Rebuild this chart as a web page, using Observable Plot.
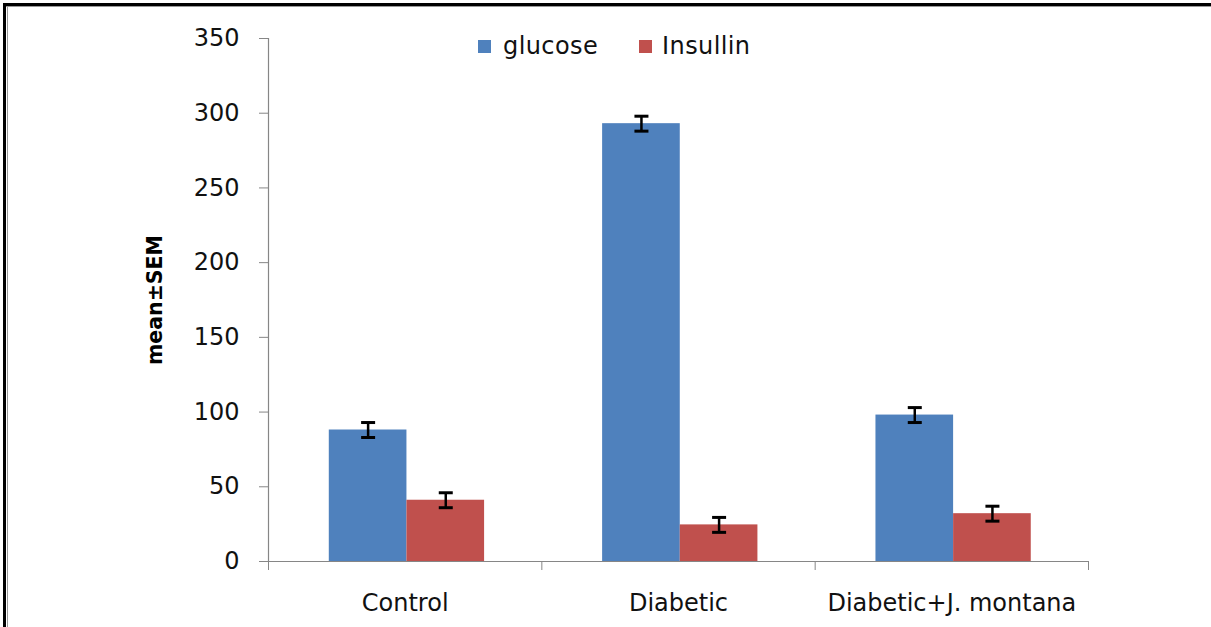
<!DOCTYPE html>
<html>
<head>
<meta charset="utf-8">
<script src="https://cdn.jsdelivr.net/npm/d3@7"></script>
<script src="https://cdn.jsdelivr.net/npm/@observablehq/plot@0.6"></script>
<style>
  html, body { margin: 0; padding: 0; background: #fff; }
  #wrap { position: relative; width: 1211px; height: 627px; overflow: hidden; font-family: "DejaVu Sans", sans-serif; }
  .bT { position: absolute; left: 3px; top: 3px; width: 1208px; height: 3px; background: #000; }
  .bT2 { position: absolute; left: 6px; top: 6px; width: 1205px; height: 1px; background: #999; }
  .bL { position: absolute; left: 3px; top: 3px; width: 3px; height: 624px; background: #000; }
  .bL2 { position: absolute; left: 7px; top: 6px; width: 1px; height: 621px; background: #999; }
  #legend { position: absolute; top: 32px; left: 478px; display: flex; align-items: center; font-size: 24px; color: #111; z-index: 2; }
  #legend .sw { width: 13px; height: 13px; display: inline-block; }
  #legend .item { display: flex; align-items: center; }
  svg { position: absolute; left: 0; top: 0; }
</style>
</head>
<body>
<div id="wrap">
  <div class="bT"></div><div class="bT2"></div><div class="bL"></div><div class="bL2"></div>
  <div id="legend"></div>
</div>
<script>
const categories = ["Control", "Diabetic", "Diabetic+J. montana"];
const series = ["glucose", "Insullin"];
const colors = ["#4F81BD", "#C0504D"];
const glucose = [88, 293, 98];
const insulin = [41, 24.5, 32];
const glucoseSEM = [5, 5, 5];
const insulinSEM = [5, 5, 5];
const yTicks = [0, 50, 100, 150, 200, 250, 300, 350];

// position of each series within a category slot (Excel-style grouped bars)
const band = d3.scaleBand().domain(series).range([0, 1]).paddingInner(0).paddingOuter(0.76).align(0.515);

const rows = [];
categories.forEach((c, i) => {
  [glucose, insulin].forEach((vals, k) => {
    const s = series[k];
    const x1 = i + band(s);
    rows.push({
      category: c, series: s, value: vals[i],
      sem: (k === 0 ? glucoseSEM : insulinSEM)[i],
      x1, x2: x1 + band.bandwidth(), xc: x1 + band.bandwidth() / 2
    });
  });
});

const capSymbol = {
  draw(ctx) { ctx.moveTo(-7, 0); ctx.lineTo(7, 0); }
};

const axisColor = "#868686";

const chart = Plot.plot({
  width: 1211,
  height: 627,
  marginLeft: 268,
  marginRight: 123,
  marginTop: 38,
  marginBottom: 66,
  style: { fontFamily: "DejaVu Sans, sans-serif", fontSize: "24px", color: "#111", background: "transparent" },
  x: { domain: [0, categories.length], axis: null },
  y: { domain: [0, 350], axis: null },
  color: { domain: series, range: colors },
  marks: [
    Plot.rectY(rows, { x1: "x1", x2: "x2", y: "value", fill: "series" }),
    Plot.ruleX(rows, { x: "xc", y1: d => d.value - d.sem, y2: d => d.value + d.sem, stroke: "#000", strokeWidth: 2.5 }),
    Plot.dot(rows, { x: "xc", y: d => d.value + d.sem, symbol: capSymbol, stroke: "#000", strokeWidth: 3, fill: "none" }),
    Plot.dot(rows, { x: "xc", y: d => d.value - d.sem, symbol: capSymbol, stroke: "#000", strokeWidth: 3, fill: "none" }),
    // axes lines
    Plot.ruleX([0], { y1: 0, y2: 350, stroke: axisColor, strokeWidth: 1.2 }),
    Plot.ruleY([0], { x1: 0, x2: categories.length, stroke: axisColor, strokeWidth: 1.2 }),
    Plot.axisY(yTicks, { ticks: yTicks, tickSize: 9, tickPadding: 20, stroke: axisColor, fill: "#111", fontSize: 24, label: null }),
    Plot.axisX(d3.range(categories.length + 1), { ticks: d3.range(categories.length + 1), tickSize: 9, tickFormat: () => "", stroke: axisColor, label: null }),
    Plot.text(categories, { x: (d, i) => i + 0.5, y: () => 0, text: d => d, dy: 42, lineAnchor: "middle", fontSize: 24, fill: "#111" }),
    Plot.text(["mean±SEM"], { frameAnchor: "left", textAnchor: "middle", dx: -113, rotate: -90, fontWeight: "bold", fontSize: 20.5, fill: "#000" })
  ]
});
document.getElementById("wrap").appendChild(chart);

const legend = document.getElementById("legend");
series.forEach((s, k) => {
  const it = document.createElement("div");
  it.className = "item";
  it.style.marginRight = k === 0 ? "41px" : "0";
  const sw = document.createElement("span");
  sw.className = "sw";
  sw.style.background = colors[k];
  const tx = document.createElement("span");
  tx.textContent = s;
  tx.style.marginLeft = k === 0 ? "12px" : "10px";
  tx.style.letterSpacing = "0.4px";
  it.appendChild(sw); it.appendChild(tx);
  legend.appendChild(it);
});
</script>
</body>
</html>
